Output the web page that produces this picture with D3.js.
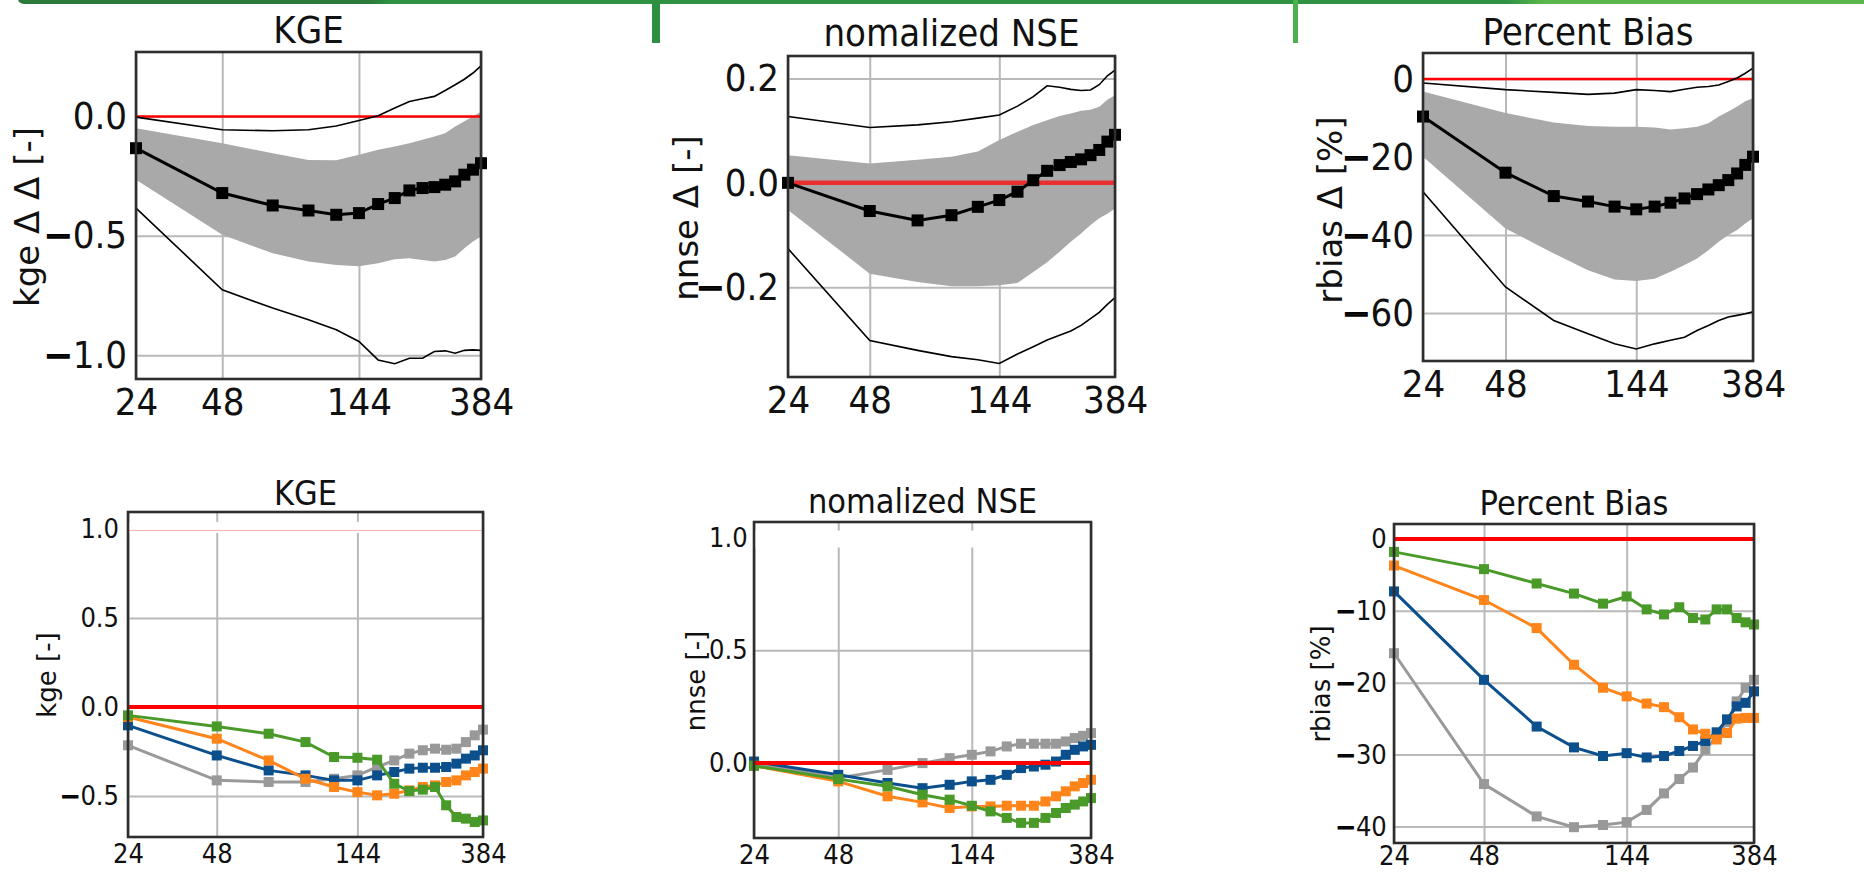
<!DOCTYPE html>
<html>
<head>
<meta charset="utf-8">
<script src="https://cdn.jsdelivr.net/npm/d3@7"></script>
<style>
  body { margin: 0; background: #fff; }
  svg { display: block; }
</style>
</head>
<body>
<svg id="fig" width="1864" height="873"></svg>
<script>
// Forecast lead times [h] and labelled ticks
const leadTimes = [24, 48, 72, 96, 120, 144, 168, 192, 216, 240, 264, 288, 312, 336, 360, 384];
const xTickValues = [24, 48, 144, 384];

// ---- Upper row: change in skill (median, inter-quartile band, extremes) ----
const kgeDeltaMedian = [-0.133, -0.321, -0.373, -0.394, -0.412, -0.405, -0.367, -0.342, -0.310, -0.300, -0.296, -0.286, -0.272, -0.244, -0.223, -0.196];
const kgeDeltaQ75    = [-0.049, -0.112, -0.154, -0.182, -0.184, -0.160, -0.140, -0.126, -0.112, -0.098, -0.084, -0.070, -0.042, -0.020, 0.000, 0.020];
const kgeDeltaQ25    = [-0.265, -0.496, -0.573, -0.608, -0.622, -0.628, -0.615, -0.598, -0.594, -0.601, -0.608, -0.601, -0.587, -0.552, -0.524, -0.503];
const kgeDeltaMax    = [-0.003, -0.056, -0.060, -0.056, -0.040, -0.017, 0.003, 0.035, 0.063, 0.074, 0.084, 0.109, 0.133, 0.156, 0.182, 0.212];
const kgeDeltaMin    = [-0.384, -0.726, -0.803, -0.852, -0.894, -0.943, -1.020, -1.036, -1.013, -1.013, -0.985, -0.982, -0.992, -0.980, -0.978, -0.980];

const nnseDeltaMedian = [0.000, -0.054, -0.072, -0.062, -0.046, -0.033, -0.017, 0.005, 0.023, 0.034, 0.040, 0.045, 0.053, 0.063, 0.079, 0.092];
const nnseDeltaQ75    = [0.053, 0.037, 0.044, 0.050, 0.060, 0.082, 0.098, 0.111, 0.120, 0.128, 0.133, 0.138, 0.140, 0.146, 0.159, 0.168];
const nnseDeltaQ25    = [-0.052, -0.174, -0.190, -0.198, -0.198, -0.196, -0.192, -0.171, -0.152, -0.132, -0.113, -0.097, -0.081, -0.068, -0.059, -0.049];
const nnseDeltaMax    = [0.127, 0.106, 0.111, 0.117, 0.124, 0.130, 0.147, 0.165, 0.186, 0.183, 0.179, 0.177, 0.178, 0.188, 0.205, 0.216];
const nnseDeltaMin    = [-0.126, -0.302, -0.321, -0.333, -0.339, -0.346, -0.328, -0.314, -0.301, -0.292, -0.284, -0.273, -0.260, -0.248, -0.233, -0.220];

const rbiasDeltaMedian = [-9.6, -24.0, -30.0, -31.4, -32.7, -33.4, -32.7, -31.7, -30.6, -29.5, -28.3, -27.2, -25.9, -24.2, -22.0, -19.9];
const rbiasDeltaQ75    = [-3.2, -8.7, -11.1, -12.0, -12.2, -12.2, -12.4, -12.9, -12.6, -12.2, -11.3, -9.6, -8.3, -7.0, -5.7, -4.9];
const rbiasDeltaQ25    = [-19.9, -38.3, -44.7, -49.0, -51.4, -51.8, -51.2, -49.4, -47.7, -46.0, -43.9, -41.7, -40.0, -38.7, -37.0, -35.7];
const rbiasDeltaMax    = [-1.0, -2.7, -3.4, -3.9, -3.6, -2.7, -2.9, -3.2, -2.6, -2.1, -1.9, -1.5, -0.6, 0.3, 1.5, 2.8];
const rbiasDeltaMin    = [-28.9, -53.3, -61.9, -65.3, -67.9, -69.2, -67.9, -67.0, -66.2, -64.5, -63.2, -61.9, -61.0, -60.6, -60.2, -59.7];

// ---- Lower row: skill of four forecast configurations ----
const kgeGray   = [-0.215, -0.412, -0.421, -0.421, -0.403, -0.384, -0.337, -0.300, -0.262, -0.243, -0.234, -0.240, -0.234, -0.197, -0.159, -0.127];
const kgeBlue   = [-0.103, -0.272, -0.356, -0.384, -0.412, -0.412, -0.384, -0.365, -0.346, -0.341, -0.341, -0.337, -0.318, -0.290, -0.272, -0.243];
const kgeOrange = [-0.056, -0.178, -0.300, -0.403, -0.449, -0.478, -0.496, -0.487, -0.468, -0.449, -0.440, -0.421, -0.412, -0.384, -0.365, -0.346];
const kgeGreen  = [-0.047, -0.109, -0.150, -0.197, -0.281, -0.285, -0.296, -0.431, -0.472, -0.464, -0.449, -0.552, -0.618, -0.627, -0.646, -0.637];

const nnseGray   = [0.000, -0.066, -0.030, 0.000, 0.022, 0.037, 0.052, 0.074, 0.086, 0.086, 0.086, 0.086, 0.096, 0.111, 0.121, 0.133];
const nnseBlue   = [0.007, -0.052, -0.088, -0.111, -0.096, -0.081, -0.074, -0.052, -0.022, -0.015, -0.007, 0.007, 0.037, 0.059, 0.074, 0.081];
const nnseOrange = [-0.012, -0.081, -0.147, -0.174, -0.199, -0.192, -0.192, -0.189, -0.189, -0.189, -0.170, -0.147, -0.125, -0.103, -0.088, -0.074];
const nnseGreen  = [-0.012, -0.071, -0.103, -0.140, -0.162, -0.189, -0.214, -0.243, -0.265, -0.265, -0.243, -0.221, -0.199, -0.184, -0.170, -0.155];

const rbiasGray   = [-15.9, -34.1, -38.6, -40.1, -39.8, -39.4, -37.7, -35.4, -33.4, -31.8, -29.3, -27.5, -25.5, -22.6, -20.7, -19.6];
const rbiasBlue   = [-7.3, -19.6, -26.1, -29.0, -30.2, -29.8, -30.4, -30.2, -29.5, -28.8, -28.1, -26.9, -25.1, -23.3, -22.8, -21.2];
const rbiasOrange = [-3.7, -8.5, -12.4, -17.5, -20.7, -21.9, -22.9, -23.4, -24.8, -26.5, -27.1, -27.9, -27.0, -25.0, -24.9, -24.9];
const rbiasGreen  = [-1.8, -4.2, -6.2, -7.6, -9.0, -8.0, -9.8, -10.5, -9.5, -11.0, -11.2, -9.8, -9.8, -11.0, -11.6, -11.9];

// ---------------------------------------------------------------------------
const FONT = "DejaVu Sans";
const SQUEEZE = 0.9;          // horizontal text condensing
const svg = d3.select("#fig");
svg.append("rect").attr("width", 1864).attr("height", 873).attr("fill", "#fff");

// green banner across the top
const defs = svg.append("defs");
const grad = defs.append("linearGradient").attr("id", "banner").attr("x1", "0").attr("x2", "1");
[[0, "#2b7a3a"], [0.19, "#2b7a3a"], [0.2, "#2e9242"], [0.8, "#2e9242"], [0.82, "#5bb64b"], [1, "#5bb64b"]]
  .forEach(([o, c]) => grad.append("stop").attr("offset", o).attr("stop-color", c));
svg.append("rect").attr("x", 18).attr("y", -6).attr("width", 1860).attr("height", 10)
  .attr("rx", 6).attr("fill", "url(#banner)");
svg.append("rect").attr("x", 652).attr("y", 0).attr("width", 8).attr("height", 43).attr("fill", "#2d8f3f");
svg.append("rect").attr("x", 1293).attr("y", 0).attr("width", 5).attr("height", 43).attr("fill", "#4db04f");

// tick value with a heavy minus sign
function writeValue(textSel, d, fmt, minusStroke) {
  textSel.text(null);
  if (d < 0) {
    textSel.append("tspan").text("\u2212")
      .attr("stroke", "#000").attr("stroke-width", minusStroke);
  }
  textSel.append("tspan").text(fmt(Math.abs(d)));
}

function drawPanel(p) {
  const [x0, x1, y0, y1] = p.box;
  const g = svg.append("g");
  const x = d3.scaleLog().base(2).domain([24, 384]).range([x0, x1]);
  const y = d3.scaleLinear().domain(p.ydom).range([y1, y0]);

  // grid + tick labels via axes
  const ay = g.append("g").attr("transform", `translate(${x0},0)`)
    .call(d3.axisLeft(y).tickValues(p.yticks).tickSize(-(x1 - x0)).tickPadding(p.ypad));
  const ax = g.append("g").attr("transform", `translate(0,${y1})`)
    .call(d3.axisBottom(x).tickValues(xTickValues).tickSize(-(y1 - y0)).tickPadding(p.xpad)
      .tickFormat(d3.format("d")));
  [ay, ax].forEach(a => {
    a.select(".domain").remove();
    a.selectAll("line").attr("stroke", "#b9b9b9").attr("stroke-width", 2);
    a.selectAll("text").attr("font-family", FONT).attr("font-size", p.tickSize)
      .attr("fill", "#111").attr("transform", `scale(${SQUEEZE},1)`);
  });
  ay.selectAll("text").each(function (d) { writeValue(d3.select(this), d, p.fmt, p.minusStroke); });

  if (p.mask) p.mask(g, x0, x1, y0, y1, y);

  const line = d3.line().x((d, i) => x(leadTimes[i])).y(d => y(d));

  if (p.band) {
    const area = d3.area().x((d, i) => x(leadTimes[i]))
      .y0((d, i) => y(p.band.lo[i])).y1((d, i) => y(p.band.hi[i]));
    g.append("path").datum(leadTimes).attr("d", area).attr("fill", "#a9a9a9");
    g.append("line").attr("x1", x0).attr("x2", x1).attr("y1", y(0)).attr("y2", y(0))
      .attr("stroke", "#ff0000").attr("stroke-width", p.redWidth).attr("stroke-opacity", p.redOpacity);
    [p.band.min, p.band.max].forEach(s =>
      g.append("path").datum(s).attr("d", line).attr("fill", "none")
        .attr("stroke", "#000").attr("stroke-width", 1.6));
    g.append("path").datum(p.band.median).attr("d", line).attr("fill", "none")
      .attr("stroke", "#000").attr("stroke-width", 3);
    g.append("g").selectAll("rect").data(p.band.median).join("rect")
      .attr("x", (d, i) => x(leadTimes[i]) - 6).attr("y", d => y(d) - 6)
      .attr("width", 12).attr("height", 12).attr("fill", "#000");
  }

  if (p.series) {
    p.series.forEach(s => {
      g.append("path").datum(s.values).attr("d", line).attr("fill", "none")
        .attr("stroke", s.color).attr("stroke-width", 3);
      g.append("g").selectAll("rect").data(s.values).join("rect")
        .attr("x", (d, i) => x(leadTimes[i]) - 5).attr("y", d => y(d) - 5)
        .attr("width", 10).attr("height", 10).attr("fill", s.color);
    });
    g.append("line").attr("x1", x0).attr("x2", x1).attr("y1", y(0)).attr("y2", y(0))
      .attr("stroke", "#ff0000").attr("stroke-width", 4);
  }

  // frame
  g.append("rect").attr("x", x0).attr("y", y0).attr("width", x1 - x0).attr("height", y1 - y0)
    .attr("fill", "none").attr("stroke", "#2e2e2e").attr("stroke-width", 2.6);

  // title
  g.append("text").attr("transform", `translate(${(x0 + x1) / 2},${p.titleY}) scale(${SQUEEZE},1)`)
    .attr("text-anchor", "middle").attr("font-family", FONT).attr("font-size", p.titleSize)
    .attr("fill", "#111").text(p.title);

  // y label
  g.append("text").attr("transform", `translate(${p.ylabelPos[0]},${p.ylabelPos[1]}) rotate(-90)`)
    .attr("text-anchor", "middle").attr("dominant-baseline", "central")
    .attr("font-family", FONT).attr("font-size", p.ylabelSize).attr("fill", "#111").text(p.ylabel);
}

const f1 = d3.format(".1f"), f0 = d3.format("d");

const topCommon = { tickSize: 38, titleSize: 38, ylabelSize: 34, ypad: 10, xpad: 9, minusStroke: 1.6, redOpacity: 1 };
const botCommon = { tickSize: 27, titleSize: 34, ylabelSize: 26, ypad: 10, xpad: 7, minusStroke: 1.2 };

// white strips near the upper limit of the lower-row panels
function maskStripNarrow(g, x0, x1, y0, y1, y) {
  g.append("rect").attr("x", x0 + 1).attr("y", y(1.0) - 7).attr("width", x1 - x0 - 2).attr("height", 11).attr("fill", "#fff");
  g.append("line").attr("x1", x0).attr("x2", x1).attr("y1", y(1.0) + 1.5).attr("y2", y(1.0) + 1.5)
    .attr("stroke", "#f3b0b0").attr("stroke-width", 1);
}
function maskStripWide(g, x0, x1, y0, y1, y) {
  g.append("rect").attr("x", x0 + 1).attr("y", y(1.0) - 7).attr("width", x1 - x0 - 2).attr("height", 17).attr("fill", "#fff");
}

const panels = [
  Object.assign({}, topCommon, {
    title: "KGE", ylabel: "kge \u0394 \u0394 [-]", box: [136, 481, 52, 379], ydom: [-1.10, 0.27],
    yticks: [0, -0.5, -1.0], fmt: f1, titleY: 43, ylabelPos: [27, 217], redWidth: 2.5,
    band: { median: kgeDeltaMedian, lo: kgeDeltaQ25, hi: kgeDeltaQ75, min: kgeDeltaMin, max: kgeDeltaMax }
  }),
  Object.assign({}, topCommon, {
    title: "nomalized NSE", ylabel: "nnse \u0394 [-]", box: [788, 1115, 56, 377], ydom: [-0.372, 0.243],
    yticks: [0.2, 0, -0.2], fmt: f1, titleY: 46, ylabelPos: [686, 218], redWidth: 4.5, redOpacity: 0.72,
    band: { median: nnseDeltaMedian, lo: nnseDeltaQ25, hi: nnseDeltaQ75, min: nnseDeltaMin, max: nnseDeltaMax }
  }),
  Object.assign({}, topCommon, {
    title: "Percent Bias", ylabel: "rbias \u0394 [%]", box: [1423, 1753, 53, 361], ydom: [-72.3, 6.7],
    yticks: [0, -20, -40, -60], fmt: f0, titleY: 45, ylabelPos: [1330, 210], redWidth: 2.5,
    band: { median: rbiasDeltaMedian, lo: rbiasDeltaQ25, hi: rbiasDeltaQ75, min: rbiasDeltaMin, max: rbiasDeltaMax }
  }),
  Object.assign({}, botCommon, {
    title: "KGE", ylabel: "kge [-]", box: [128, 483, 512, 837], ydom: [-0.730, 1.095],
    yticks: [1.0, 0.5, 0.0, -0.5], fmt: f1, titleY: 505, ylabelPos: [47, 675], mask: maskStripNarrow,
    series: [
      { values: kgeGray, color: "#999999" }, { values: kgeBlue, color: "#0b4f8c" },
      { values: kgeOrange, color: "#ff851b" }, { values: kgeGreen, color: "#4a9a2a" }
    ]
  }),
  Object.assign({}, botCommon, {
    title: "nomalized NSE", ylabel: "nnse [-]", box: [754, 1091, 522, 838], ydom: [-0.332, 1.069],
    yticks: [1.0, 0.5, 0.0], fmt: f1, titleY: 513, ylabelPos: [696, 681], ypad: 7, mask: maskStripWide,
    series: [
      { values: nnseGray, color: "#999999" }, { values: nnseBlue, color: "#0b4f8c" },
      { values: nnseOrange, color: "#ff851b" }, { values: nnseGreen, color: "#4a9a2a" }
    ]
  }),
  Object.assign({}, botCommon, {
    title: "Percent Bias", ylabel: "rbias [%]", box: [1394, 1754, 524, 843], ydom: [-42.3, 2.08],
    yticks: [0, -10, -20, -30, -40], fmt: f0, titleY: 515, ylabelPos: [1321, 684], ypad: 8, xpad: 3,
    series: [
      { values: rbiasGray, color: "#999999" }, { values: rbiasBlue, color: "#0b4f8c" },
      { values: rbiasOrange, color: "#ff851b" }, { values: rbiasGreen, color: "#4a9a2a" }
    ]
  })
];

panels.forEach(drawPanel);
</script>
</body>
</html>
